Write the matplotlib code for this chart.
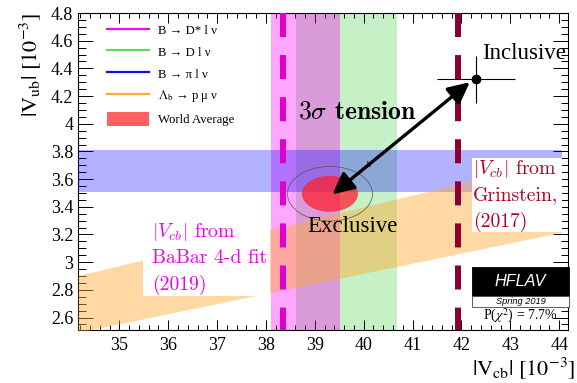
#!/usr/bin/env python3
"""
|Vub| vs |Vcb| summary plot (exclusive / inclusive determinations)
"""

import matplotlib.pyplot as plt
import numpy as np
from matplotlib.patches import Ellipse, Patch, Rectangle
from matplotlib.lines import Line2D
from matplotlib.ticker import MultipleLocator, FormatStrFormatter

plt.rcParams.update({
    'font.family': ['Liberation Serif', 'DejaVu Serif'],
    'mathtext.fontset': 'stix',
    'lines.scale_dashes': False,
    'axes.linewidth': 0.8,
})

# ---- measurements (units of 1e-3) ----
vcb_dstar, vcb_dstar_err = 38.81, 0.71      # B -> D* l nu
vcb_d, vcb_d_err = 39.65, 1.03              # B -> D l nu
vub_pi, vub_pi_err = 3.66, 0.15             # B -> pi l nu
ratio_lb, ratio_lb_err = 0.079, 0.006       # Lambda_b -> p mu nu : Vub/Vcb

wa_vcb, wa_vub = 39.31, 3.494               # world average (exclusive)
wa_sig_vcb, wa_sig_vub = 0.573, 0.130
wa_outer_scale = np.sqrt(2.3)               # 68% CL 2D contour

incl_vcb, incl_vcb_err = 42.30, 0.80
incl_vub, incl_vub_err = 4.32, 0.17

vcb_babar = 38.35                           # BaBar 4-d fit (2019)
vcb_grinstein = 41.93                       # Grinstein (2017)

chi2_prob = 7.7

xlim = (34.155, 44.18)
ylim = (2.51, 4.8)
band_xmax = 44.05

fig = plt.figure(figsize=(5.77, 3.83), dpi=100)
ax = fig.add_axes([0.1352, 0.1384, 0.8492, 0.8276])

# vertical bands
ax.axvspan(vcb_d - vcb_d_err, vcb_d + vcb_d_err, color='#33cc33', alpha=0.28,
           lw=0, zorder=1)
ax.axvspan(vcb_dstar - vcb_dstar_err, vcb_dstar + vcb_dstar_err, color='#ff00ff',
           alpha=0.35, lw=0, zorder=2)

# horizontal band
ax.fill_between([xlim[0], band_xmax], vub_pi - vub_pi_err, vub_pi + vub_pi_err,
                color='#0000ff', alpha=0.30, lw=0, zorder=3)

# ratio band
xr = np.array([xlim[0], band_xmax])
ax.fill_between(xr, (ratio_lb - ratio_lb_err) * xr, (ratio_lb + ratio_lb_err) * xr,
                color='#ffaa33', alpha=0.45, lw=0, zorder=4)

# white label boxes
ax.add_patch(Rectangle((35.485, 2.758), 2.595, 0.606, facecolor='white',
                       edgecolor='none', zorder=5))
ax.add_patch(Rectangle((42.22, 3.22), 1.84, 0.534, facecolor='white',
                       edgecolor='none', zorder=5))

# dashed Vcb lines
for v, c in [(vcb_babar, '#dd00cc'), (vcb_grinstein, '#8b0030')]:
    ax.plot([v, v], [ylim[1], ylim[0]], color=c, lw=4.3, zorder=6,
            dashes=(17.3, 13.0), solid_capstyle='butt', dash_capstyle='butt')

# world average ellipses
ax.add_patch(Ellipse((wa_vcb, wa_vub), 2 * wa_sig_vcb, 2 * wa_sig_vub,
                     facecolor='#ff2030', edgecolor='none', alpha=0.75, zorder=7))
ax.add_patch(Ellipse((wa_vcb, wa_vub), 2 * wa_sig_vcb * wa_outer_scale,
                     2 * wa_sig_vub * wa_outer_scale, facecolor='none',
                     edgecolor='#555555', lw=0.5, zorder=7))
ax.text(40.09, 3.70, 'b', fontsize=6, ha='center', va='center', zorder=7)

# inclusive point
ax.errorbar(incl_vcb, incl_vub, xerr=incl_vcb_err, yerr=incl_vub_err, fmt='o',
            color='black', ms=6, elinewidth=0.8, capsize=0, zorder=9)

# tension arrow
ax.annotate('', xy=(42.17, 4.30), xytext=(39.36, 3.49),
            arrowprops=dict(arrowstyle='<|-|>,head_length=0.65,head_width=0.32',
                            mutation_scale=20, lw=2.4, color='black',
                            shrinkA=0, shrinkB=0), zorder=9)

# text labels
ax.text(38.66, 4.086, r'$3\sigma$ tension', family='cmb10', math_fontfamily='cm',
        fontsize=18.5, va='center', ha='left', zorder=10)
ax.text(42.42, 4.51, 'Inclusive', fontsize=16.5, va='center', ha='left', zorder=10)
ax.text(38.84, 3.256, 'Exclusive', fontsize=16.5, va='center', ha='left', zorder=10)

babar_lines = [r'$|V_{cb}|$ from', 'BaBar 4-d fit', '(2019)']
grin_lines = [r'$|V_{cb}|$ from', 'Grinstein,', '(2017)']
for i, s in enumerate(babar_lines):
    ax.text(35.67, 3.22 - i * 0.192, s, family='cmr10', math_fontfamily='cm',
            fontsize=14.2, color='#ee00ee', va='center', ha='left', zorder=10)
for i, s in enumerate(grin_lines):
    ax.text(42.24, 3.675 - i * 0.193, s, family='cmr10', math_fontfamily='cm',
            fontsize=14.2, color='#b00020', va='center', ha='left', zorder=10)

# HFLAV logo
ax.add_patch(Rectangle((0.804, 0.107), 0.198, 0.092, transform=ax.transAxes,
                       facecolor='black', edgecolor='black', lw=0.6,
                       clip_on=False, zorder=11))
ax.add_patch(Rectangle((0.804, 0.071), 0.198, 0.036, transform=ax.transAxes,
                       facecolor='white', edgecolor='#444444', lw=0.6,
                       clip_on=False, zorder=11))
ax.text(0.903, 0.153, 'HFLAV', transform=ax.transAxes, family='Liberation Sans',
        style='italic', color='white', fontsize=11.7, ha='center', va='center',
        zorder=12)
ax.text(0.903, 0.089, 'Spring 2019', transform=ax.transAxes,
        family='Liberation Sans', style='italic', fontsize=6.7, ha='center',
        va='center', zorder=12)
ax.text(0.903, 0.043, r'P($\chi^2$) = %.1f%%' % chi2_prob, transform=ax.transAxes,
        fontsize=10, ha='center', va='center', zorder=12)

# legend
handles = [
    Line2D([0], [0], color='#ff00ff', lw=1.6),
    Line2D([0], [0], color='#55dd55', lw=1.6),
    Line2D([0], [0], color='#1010ee', lw=1.6),
    Line2D([0], [0], color='#ffaa33', lw=1.6),
    Patch(facecolor='#ff6060', edgecolor='none'),
]
labels = ['B → D* l ν', 'B → D l ν', 'B → π l ν',
          r'$\Lambda_\mathrm{b}$ → p μ ν', 'World Average']
ax.legend(handles, labels, loc='upper left', bbox_to_anchor=(0.059, 0.968),
          frameon=False, fontsize=9.2, handlelength=3.3, handleheight=1.25,
          handletextpad=0.7, labelspacing=0.6, borderaxespad=0, borderpad=0)

# axes
ax.set_xlim(*xlim)
ax.set_ylim(*ylim)
ax.xaxis.set_major_locator(MultipleLocator(1))
ax.xaxis.set_minor_locator(MultipleLocator(0.2))
ax.yaxis.set_major_locator(MultipleLocator(0.2))
ax.yaxis.set_minor_locator(MultipleLocator(0.05))
ax.yaxis.set_major_formatter(FormatStrFormatter('%g'))
ax.tick_params(which='both', direction='in', top=True, right=True, width=0.7,
               labelsize=13)
ax.tick_params(axis='x', which='major', length=7)
ax.tick_params(axis='x', which='minor', length=3.5)
ax.tick_params(axis='y', which='major', length=10.8)
ax.tick_params(axis='y', which='minor', length=5.4)
ax.tick_params(axis='x', pad=5)

ax.set_xlabel(r'$|\mathrm{V}_{\mathrm{cb}}|\ [10^{-3}]$', fontsize=16)
ax.xaxis.set_label_coords(1.014, -0.12)
ax.xaxis.label.set_ha('right')
ax.xaxis.label.set_va('center')
ax.set_ylabel(r'$|\mathrm{V}_{\mathrm{ub}}|\ [10^{-3}]$', fontsize=16)
ax.yaxis.set_label_coords(-0.098, 1.0)
ax.yaxis.label.set_ha('right')
ax.yaxis.label.set_va('center')

fig.savefig('out.png', dpi=100, facecolor='white')
